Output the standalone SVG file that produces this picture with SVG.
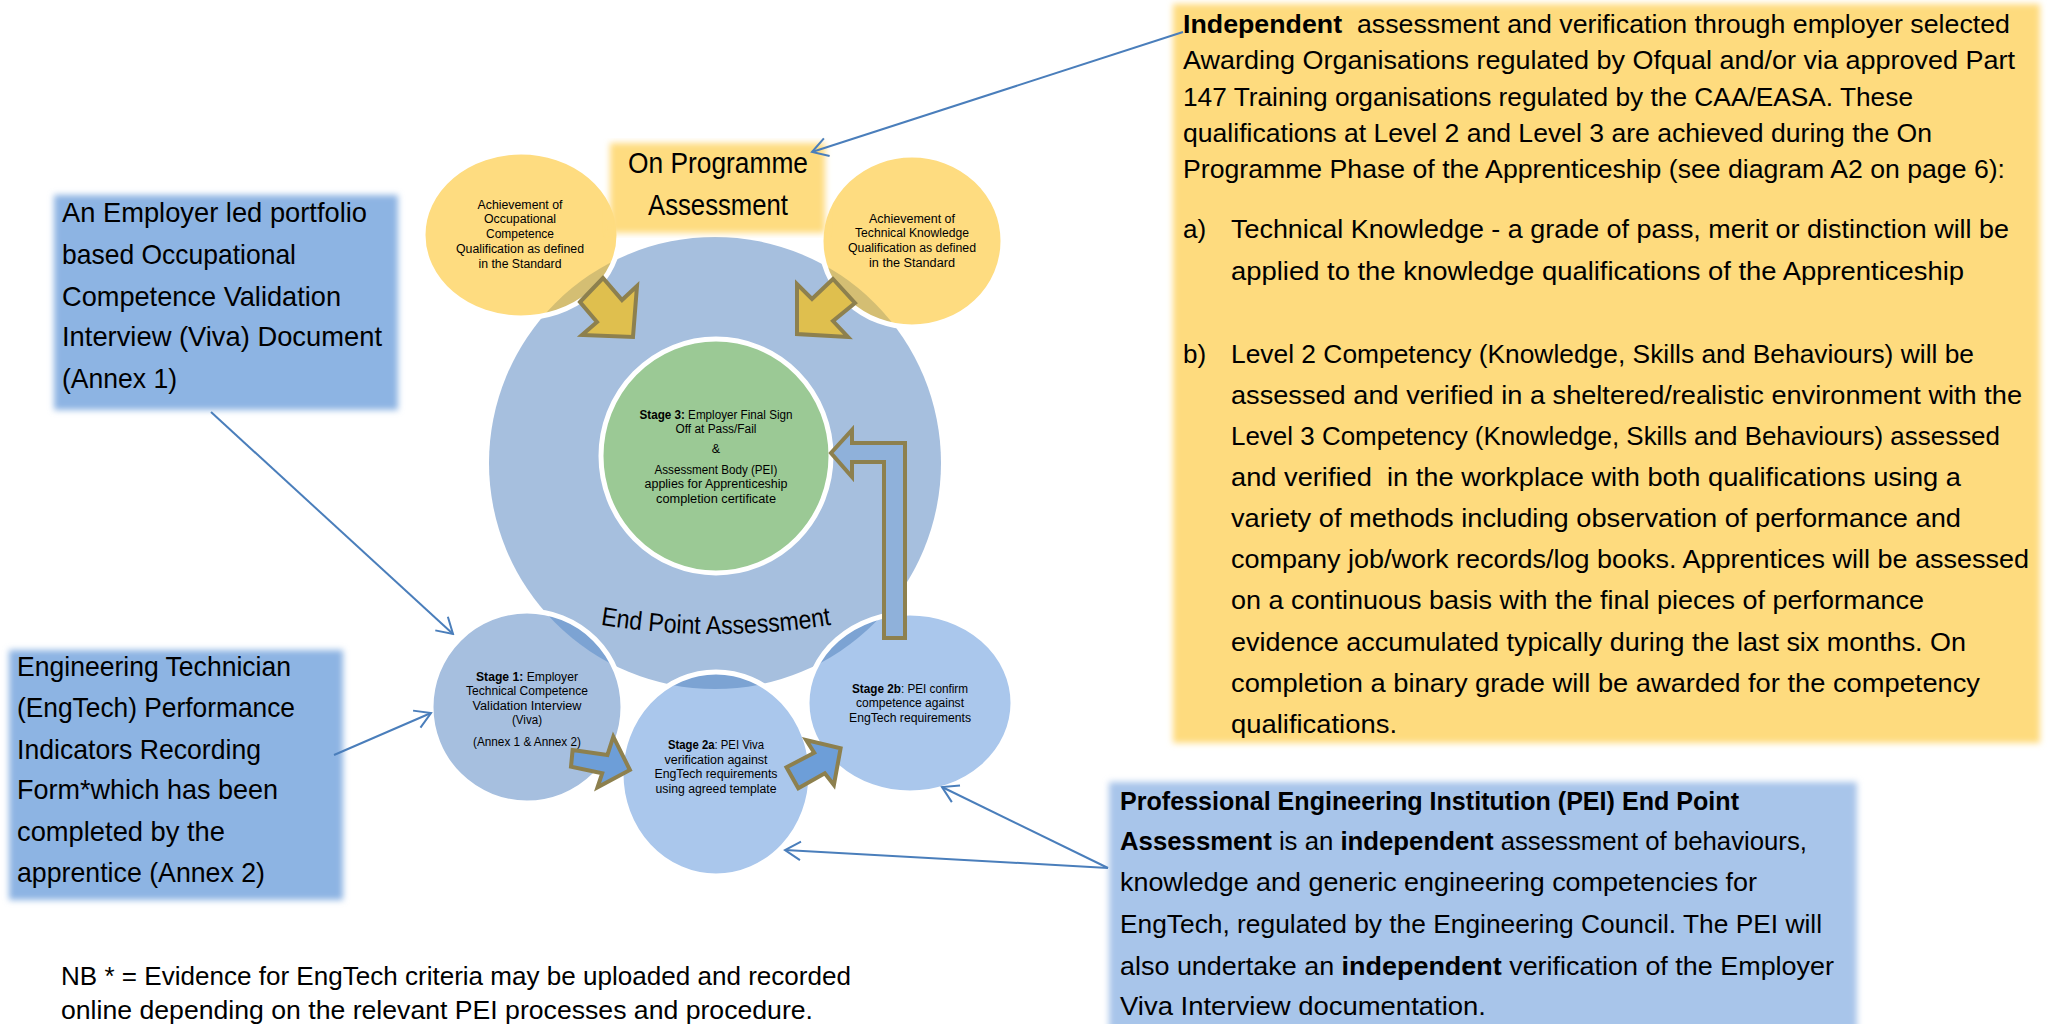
<svg xmlns="http://www.w3.org/2000/svg" width="2049" height="1024" viewBox="0 0 2049 1024">
<defs>
<style>
.t{font-family:"Liberation Sans",Arial,sans-serif;fill:#000}
.big{font-size:28px}
.mid{font-size:26px}
.sm{font-size:12.5px}
.b{font-weight:bold}
.con{fill:none;stroke:#4a7ebb;stroke-width:2;marker-end:url(#open)}
.ya{fill:#dfbf4e;stroke:#8d804e;stroke-width:4}
.ba{fill:#6d9ed8;stroke:#8d804e;stroke-width:4}
.ring{fill:none;stroke:#fff;stroke-width:5}
.lensY{fill:#d4be73}
.lensB{fill:#7ca3d3}
</style>
<filter id="soft" x="-5%" y="-5%" width="110%" height="110%"><feGaussianBlur stdDeviation="3"/></filter>
<marker id="open" viewBox="-20 -12 22 24" refX="0" refY="0" markerWidth="22" markerHeight="24" markerUnits="userSpaceOnUse" orient="auto">
<path d="M-15.5,-9.3 L0,0 L-15.5,9.3" fill="none" stroke="#4a7ebb" stroke-width="2"/>
</marker>
<clipPath id="bigc"><circle cx="715" cy="463" r="226"/></clipPath>
<path id="epa" d="M596,624 Q716,644 836,624"/>
</defs>

<g id="end-point-circle">
<circle cx="715" cy="463" r="226" fill="#a6bfde"/>
</g>

<g id="occ-qual">
<ellipse cx="521" cy="235" rx="98" ry="83" fill="#fedc80"/>
<ellipse cx="521" cy="235" rx="98" ry="83" class="lensY" clip-path="url(#bigc)"/>
<ellipse cx="521" cy="235" rx="98" ry="83" class="ring"/>
<text class="t sm" text-anchor="middle"><tspan x="520" y="209" textLength="85" lengthAdjust="spacingAndGlyphs">Achievement of</tspan><tspan x="520" y="223" textLength="72" lengthAdjust="spacingAndGlyphs">Occupational</tspan><tspan x="520" y="238" textLength="68" lengthAdjust="spacingAndGlyphs">Competence</tspan><tspan x="520" y="253" textLength="128" lengthAdjust="spacingAndGlyphs">Qualification as defined</tspan><tspan x="520" y="268" textLength="83" lengthAdjust="spacingAndGlyphs">in the Standard</tspan></text>
</g>

<g id="tech-qual">
<ellipse cx="912" cy="241" rx="91" ry="86" fill="#fedc80"/>
<ellipse cx="912" cy="241" rx="91" ry="86" class="lensY" clip-path="url(#bigc)"/>
<ellipse cx="912" cy="241" rx="91" ry="86" class="ring"/>
<text class="t sm" text-anchor="middle"><tspan x="912" y="223" textLength="86" lengthAdjust="spacingAndGlyphs">Achievement of</tspan><tspan x="912" y="237" textLength="114" lengthAdjust="spacingAndGlyphs">Technical Knowledge</tspan><tspan x="912" y="252" textLength="128" lengthAdjust="spacingAndGlyphs">Qualification as defined</tspan><tspan x="912" y="267" textLength="86" lengthAdjust="spacingAndGlyphs">in  the Standard</tspan></text>
</g>

<g id="on-programme">
<rect x="610" y="143" width="215" height="90" fill="#fedc80" filter="url(#soft)"/>
<text class="t" font-size="29" text-anchor="middle"><tspan x="718" y="173" textLength="180" lengthAdjust="spacingAndGlyphs">On Programme</tspan><tspan x="718" y="215" textLength="140" lengthAdjust="spacingAndGlyphs">Assessment</tspan></text>
</g>

<g id="stage3">
<ellipse cx="716" cy="456" rx="115" ry="117" fill="#9bc995" stroke="#fff" stroke-width="5"/>
<text class="t sm" text-anchor="middle"><tspan x="716" y="419" textLength="153" lengthAdjust="spacingAndGlyphs"><tspan class="b">Stage 3:</tspan> Employer Final Sign</tspan><tspan x="716" y="433" textLength="81" lengthAdjust="spacingAndGlyphs">Off at Pass/Fail</tspan><tspan x="716" y="453">&amp;</tspan><tspan x="716" y="474" textLength="123" lengthAdjust="spacingAndGlyphs">Assessment Body (PEI)</tspan><tspan x="716" y="488" textLength="143" lengthAdjust="spacingAndGlyphs">applies for Apprenticeship</tspan><tspan x="716" y="503" textLength="120" lengthAdjust="spacingAndGlyphs">completion certificate</tspan></text>
</g>

<g id="epa-label">
<text class="t" font-size="26"><textPath href="#epa" startOffset="50%" text-anchor="middle" textLength="232" lengthAdjust="spacingAndGlyphs">End Point Assessment</textPath></text>
</g>

<g id="stage1">
<circle cx="527" cy="707" r="96" fill="#a6bfdf"/>
<circle cx="527" cy="707" r="96" class="lensB" clip-path="url(#bigc)"/>
<circle cx="527" cy="707" r="96" class="ring"/>
<text class="t sm" text-anchor="middle"><tspan x="527" y="681" textLength="102" lengthAdjust="spacingAndGlyphs"><tspan class="b">Stage 1:</tspan>  Employer</tspan><tspan x="527" y="695" textLength="122" lengthAdjust="spacingAndGlyphs">Technical Competence</tspan><tspan x="527" y="710" textLength="109" lengthAdjust="spacingAndGlyphs">Validation Interview</tspan><tspan x="527" y="724" textLength="30" lengthAdjust="spacingAndGlyphs">(Viva)</tspan><tspan x="527" y="746" textLength="108" lengthAdjust="spacingAndGlyphs">(Annex 1 &amp; Annex 2)</tspan></text>
</g>

<g id="stage2b">
<ellipse cx="910" cy="703" rx="103" ry="90" fill="#aac7ec"/>
<ellipse cx="910" cy="703" rx="103" ry="90" class="lensB" clip-path="url(#bigc)"/>
<ellipse cx="910" cy="703" rx="103" ry="90" class="ring"/>
<text class="t sm" text-anchor="middle"><tspan x="910" y="693" textLength="116" lengthAdjust="spacingAndGlyphs"><tspan class="b">Stage 2b</tspan>: PEI confirm</tspan><tspan x="910" y="707" textLength="108" lengthAdjust="spacingAndGlyphs">competence against</tspan><tspan x="910" y="722" textLength="122" lengthAdjust="spacingAndGlyphs">EngTech requirements</tspan></text>
</g>

<g id="stage2a">
<ellipse cx="716" cy="774" rx="95" ry="102" fill="#aac7ec"/>
<ellipse cx="716" cy="774" rx="95" ry="102" class="lensB" clip-path="url(#bigc)"/>
<ellipse cx="716" cy="774" rx="95" ry="102" class="ring"/>
<text class="t sm" text-anchor="middle"><tspan x="716" y="749" textLength="96" lengthAdjust="spacingAndGlyphs"><tspan class="b">Stage 2a</tspan>: PEI Viva</tspan><tspan x="716" y="764" textLength="103" lengthAdjust="spacingAndGlyphs">verification against</tspan><tspan x="716" y="778" textLength="123" lengthAdjust="spacingAndGlyphs">EngTech requirements</tspan><tspan x="716" y="793" textLength="121" lengthAdjust="spacingAndGlyphs">using agreed template</tspan></text>
</g>

<g id="block-arrows">
<polygon class="ya" points="580,302 603,278 622,300 637,286 633,337 582,335 597,322"/>
<polygon class="ya" points="833,279 812,299 797,284 797,334 848,337 833,321 855,303"/>
<polygon class="ba" points="572.6,750 607.4,755 613.3,736.7 629.9,770 597.5,787.3 602.2,773.3 571,766.7"/>
<polygon class="ba" points="786.5,767.3 814.2,752.7 806.2,740 840.6,748.3 833.9,785 824.8,773.3 798.3,788.3"/>
<polygon points="884,638 884,462 852,462 852,477 831,453 852,430 852,443 905,443 905,638" fill="#8fb1da" stroke="#8d804e" stroke-width="4"/>
</g>

<g id="box-viva-doc">
<rect x="54" y="195" width="344" height="215" fill="#8db4e3" filter="url(#soft)"/>
<text class="t big"><tspan x="62" y="222" textLength="305" lengthAdjust="spacingAndGlyphs">An Employer led portfolio</tspan><tspan x="62" y="264" textLength="234" lengthAdjust="spacingAndGlyphs">based Occupational</tspan><tspan x="62" y="306" textLength="279" lengthAdjust="spacingAndGlyphs">Competence Validation</tspan><tspan x="62" y="346" textLength="320" lengthAdjust="spacingAndGlyphs">Interview (Viva) Document</tspan><tspan x="62" y="388" textLength="115" lengthAdjust="spacingAndGlyphs">(Annex 1)</tspan></text>
</g>

<g id="box-engtech-form">
<rect x="9" y="650" width="334" height="250" fill="#8db4e3" filter="url(#soft)"/>
<text class="t big"><tspan x="17" y="676" textLength="274" lengthAdjust="spacingAndGlyphs">Engineering Technician</tspan><tspan x="17" y="717" textLength="278" lengthAdjust="spacingAndGlyphs">(EngTech) Performance</tspan><tspan x="17" y="759" textLength="244" lengthAdjust="spacingAndGlyphs">Indicators Recording</tspan><tspan x="17" y="799" textLength="261" lengthAdjust="spacingAndGlyphs">Form*which has been</tspan><tspan x="17" y="841" textLength="208" lengthAdjust="spacingAndGlyphs">completed by the</tspan><tspan x="17" y="882" textLength="248" lengthAdjust="spacingAndGlyphs">apprentice (Annex 2)</tspan></text>
</g>

<g id="box-independent">
<rect x="1173" y="4" width="867" height="739" fill="#fedb7e" filter="url(#soft)"/>
<text class="t mid">
<tspan x="1183" y="33" textLength="827" lengthAdjust="spacingAndGlyphs"><tspan class="b">Independent</tspan>&#160; assessment and verification through employer selected</tspan>
<tspan x="1183" y="69" textLength="832" lengthAdjust="spacingAndGlyphs">Awarding Organisations regulated by Ofqual and/or via approved Part</tspan>
<tspan x="1183" y="106" textLength="730" lengthAdjust="spacingAndGlyphs">147 Training organisations regulated by the CAA/EASA. These</tspan>
<tspan x="1183" y="142" textLength="749" lengthAdjust="spacingAndGlyphs">qualifications at Level 2 and Level 3 are achieved during the On</tspan>
<tspan x="1183" y="178" textLength="822" lengthAdjust="spacingAndGlyphs">Programme Phase of the Apprenticeship (see diagram A2 on page 6):</tspan>
</text>
<text class="t mid"><tspan x="1183" y="238">a)</tspan><tspan x="1183" y="363">b)</tspan></text>
<text class="t mid">
<tspan x="1231" y="238" textLength="778" lengthAdjust="spacingAndGlyphs">Technical Knowledge - a grade of pass, merit or distinction will be</tspan>
<tspan x="1231" y="280" textLength="733" lengthAdjust="spacingAndGlyphs">applied to the knowledge qualifications of the Apprenticeship</tspan>
<tspan x="1231" y="363" textLength="743" lengthAdjust="spacingAndGlyphs">Level 2 Competency (Knowledge, Skills and Behaviours) will be</tspan>
<tspan x="1231" y="404" textLength="791" lengthAdjust="spacingAndGlyphs">assessed and verified in a sheltered/realistic environment with the</tspan>
<tspan x="1231" y="445" textLength="769" lengthAdjust="spacingAndGlyphs">Level 3 Competency (Knowledge, Skills and Behaviours) assessed</tspan>
<tspan x="1231" y="486" textLength="730" lengthAdjust="spacingAndGlyphs">and verified&#160; in the workplace with both qualifications using a</tspan>
<tspan x="1231" y="527" textLength="730" lengthAdjust="spacingAndGlyphs">variety of methods including observation of performance and</tspan>
<tspan x="1231" y="568" textLength="798" lengthAdjust="spacingAndGlyphs">company job/work records/log books. Apprentices will be assessed</tspan>
<tspan x="1231" y="609" textLength="693" lengthAdjust="spacingAndGlyphs">on a continuous basis with the final pieces of performance</tspan>
<tspan x="1231" y="651" textLength="735" lengthAdjust="spacingAndGlyphs">evidence accumulated typically during the last six months. On</tspan>
<tspan x="1231" y="692" textLength="749" lengthAdjust="spacingAndGlyphs">completion a binary grade will be awarded for the competency</tspan>
<tspan x="1231" y="733" textLength="166" lengthAdjust="spacingAndGlyphs">qualifications.</tspan>
</text>
</g>

<g id="box-pei">
<rect x="1109" y="782" width="748" height="250" fill="#a8c5ea" filter="url(#soft)"/>
<text class="t mid">
<tspan x="1120" y="810" textLength="619" lengthAdjust="spacingAndGlyphs" class="b">Professional Engineering Institution (PEI) End Point</tspan>
<tspan x="1120" y="850" textLength="687" lengthAdjust="spacingAndGlyphs"><tspan class="b">Assessment</tspan> is an <tspan class="b">independent</tspan> assessment of behaviours,</tspan>
<tspan x="1120" y="891" textLength="637" lengthAdjust="spacingAndGlyphs">knowledge and generic engineering competencies for</tspan>
<tspan x="1120" y="933" textLength="702" lengthAdjust="spacingAndGlyphs">EngTech, regulated by the Engineering Council. The PEI will</tspan>
<tspan x="1120" y="975" textLength="714" lengthAdjust="spacingAndGlyphs">also undertake an <tspan class="b">independent</tspan> verification of the Employer</tspan>
<tspan x="1120" y="1015" textLength="366" lengthAdjust="spacingAndGlyphs">Viva Interview documentation.</tspan>
</text>
</g>

<g id="note">
<text class="t mid"><tspan x="61" y="985" textLength="790" lengthAdjust="spacingAndGlyphs">NB * = Evidence for EngTech criteria may be uploaded and recorded</tspan><tspan x="61" y="1019" textLength="752" lengthAdjust="spacingAndGlyphs">online depending on the relevant PEI processes and procedure.</tspan></text>
</g>

<g id="connectors">
<line class="con" x1="1183" y1="32" x2="812" y2="152"/>
<line class="con" x1="211" y1="412" x2="453" y2="634"/>
<line class="con" x1="334" y1="755" x2="431" y2="713"/>
<line class="con" x1="1108" y1="868" x2="942" y2="787"/>
<line class="con" x1="1108" y1="868" x2="785" y2="850"/>
</g>
</svg>
